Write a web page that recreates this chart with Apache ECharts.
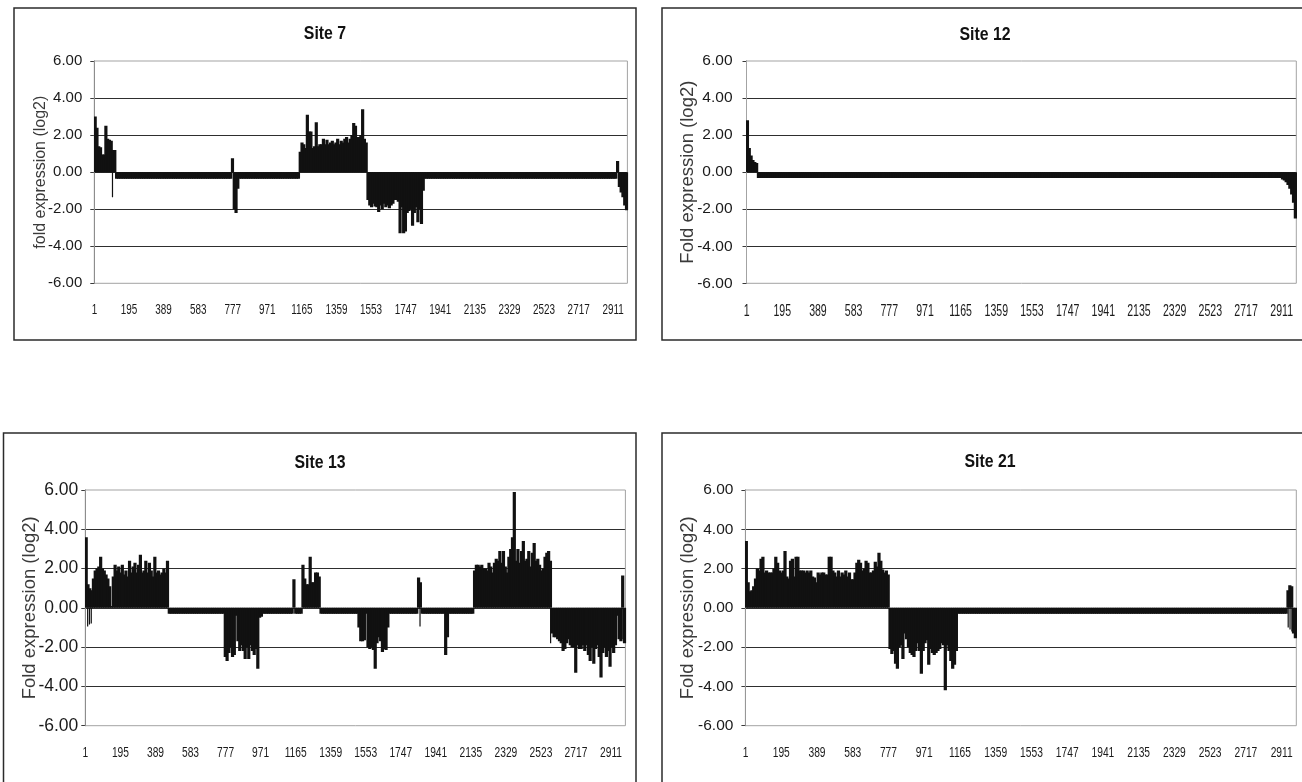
<!DOCTYPE html>
<html><head><meta charset="utf-8">
<script src="https://cdn.jsdelivr.net/npm/echarts@6/dist/echarts.min.js"></script>
<style>html,body{margin:0;padding:0;background:#fff}#c{width:1302px;height:782px}</style>
</head><body><div id="c"></div>
<script>
// ---------- DATA ----------
const tickLabels = ['1','195','389','583','777','971','1165','1359','1553','1747','1941','2135','2329','2523','2717','2911'];
const titles = ['Site 7', 'Site 12', 'Site 13', 'Site 21'];
const yNames = ['fold expression (log2)', 'Fold expression (log2)', 'Fold expression (log2)', 'Fold expression (log2)'];
const nCats = 2990;   // number of probes on the x axis
const binSize = 10;   // each value below covers 10 consecutive probes
const tickStep = 194; // a label every 194 probes

const site7 = [
 3.0,2.4,1.4,1.35,0.95,0.95,2.5,1.8,1.75,1.7,1.2,1.2,-0.35,-0.35,-0.35,-0.35,-0.35,-0.35,-0.35,-0.35,
 -0.35,-0.35,-0.35,-0.35,-0.35,-0.35,-0.35,-0.35,-0.35,-0.35,-0.35,-0.35,-0.35,-0.35,-0.35,-0.35,-0.35,-0.35,-0.35,-0.35,
 -0.35,-0.35,-0.35,-0.35,-0.35,-0.35,-0.35,-0.35,-0.35,-0.35,-0.35,-0.35,-0.35,-0.35,-0.35,-0.35,-0.35,-0.35,-0.35,-0.35,
 -0.35,-0.35,-0.35,-0.35,-0.35,-0.35,-0.35,-0.35,-0.35,-0.35,-0.35,-0.35,-0.35,-0.35,-0.35,-0.35,-0.35,0.75,-2.0,-2.2,
 -0.9,-0.35,-0.35,-0.35,-0.35,-0.35,-0.35,-0.35,-0.35,-0.35,-0.35,-0.35,-0.35,-0.35,-0.35,-0.35,-0.35,-0.35,-0.35,-0.35,
 -0.35,-0.35,-0.35,-0.35,-0.35,-0.35,-0.35,-0.35,-0.35,-0.35,-0.35,-0.35,-0.35,-0.35,-0.35,1.1,1.6,1.5,1.3,3.1,
 2.2,2.2,1.3,1.4,2.7,1.4,1.5,1.5,1.8,1.5,1.75,1.5,1.6,1.7,1.5,1.6,1.8,1.5,1.7,1.6,
 1.8,1.9,1.6,1.8,2.0,2.65,2.5,1.9,1.9,2.0,3.4,1.8,1.6,-1.5,-1.8,-1.9,-1.7,-1.85,-1.9,-2.15,
 -1.8,-2.0,-1.7,-1.9,-1.8,-1.95,-1.8,-1.7,-1.5,-1.5,-1.6,-3.3,-1.9,-3.3,-3.2,-2.2,-2.1,-2.0,-2.9,-2.2,
 -1.9,-2.7,-2.0,-2.8,-1.0,-0.35,-0.35,-0.35,-0.35,-0.35,-0.35,-0.35,-0.35,-0.35,-0.35,-0.35,-0.35,-0.35,-0.35,-0.35,
 -0.35,-0.35,-0.35,-0.35,-0.35,-0.35,-0.35,-0.35,-0.35,-0.35,-0.35,-0.35,-0.35,-0.35,-0.35,-0.35,-0.35,-0.35,-0.35,-0.35,
 -0.35,-0.35,-0.35,-0.35,-0.35,-0.35,-0.35,-0.35,-0.35,-0.35,-0.35,-0.35,-0.35,-0.35,-0.35,-0.35,-0.35,-0.35,-0.35,-0.35,
 -0.35,-0.35,-0.35,-0.35,-0.35,-0.35,-0.35,-0.35,-0.35,-0.35,-0.35,-0.35,-0.35,-0.35,-0.35,-0.35,-0.35,-0.35,-0.35,-0.35,
 -0.35,-0.35,-0.35,-0.35,-0.35,-0.35,-0.35,-0.35,-0.35,-0.35,-0.35,-0.35,-0.35,-0.35,-0.35,-0.35,-0.35,-0.35,-0.35,-0.35,
 -0.35,-0.35,-0.35,-0.35,-0.35,-0.35,-0.35,-0.35,-0.35,-0.35,-0.35,-0.35,-0.35,0.6,-0.8,-1.1,-1.35,-1.8,-2.05
];
const site7ExtraX = [102];
const site7ExtraY = [-1.35];

const site12 = [
 2.8,1.3,0.9,0.65,0.55,0.5,-0.32,-0.32,-0.32,-0.32,-0.32,-0.32,-0.32,-0.32,-0.32,-0.32,-0.32,-0.32,-0.32,-0.32,
 -0.32,-0.32,-0.32,-0.32,-0.32,-0.32,-0.32,-0.32,-0.32,-0.32,-0.32,-0.32,-0.32,-0.32,-0.32,-0.32,-0.32,-0.32,-0.32,-0.32,
 -0.32,-0.32,-0.32,-0.32,-0.32,-0.32,-0.32,-0.32,-0.32,-0.32,-0.32,-0.32,-0.32,-0.32,-0.32,-0.32,-0.32,-0.32,-0.32,-0.32,
 -0.32,-0.32,-0.32,-0.32,-0.32,-0.32,-0.32,-0.32,-0.32,-0.32,-0.32,-0.32,-0.32,-0.32,-0.32,-0.32,-0.32,-0.32,-0.32,-0.32,
 -0.32,-0.32,-0.32,-0.32,-0.32,-0.32,-0.32,-0.32,-0.32,-0.32,-0.32,-0.32,-0.32,-0.32,-0.32,-0.32,-0.32,-0.32,-0.32,-0.32,
 -0.32,-0.32,-0.32,-0.32,-0.32,-0.32,-0.32,-0.32,-0.32,-0.32,-0.32,-0.32,-0.32,-0.32,-0.32,-0.32,-0.32,-0.32,-0.32,-0.32,
 -0.32,-0.32,-0.32,-0.32,-0.32,-0.32,-0.32,-0.32,-0.32,-0.32,-0.32,-0.32,-0.32,-0.32,-0.32,-0.32,-0.32,-0.32,-0.32,-0.32,
 -0.32,-0.32,-0.32,-0.32,-0.32,-0.32,-0.32,-0.32,-0.32,-0.32,-0.32,-0.32,-0.32,-0.32,-0.32,-0.32,-0.32,-0.32,-0.32,-0.32,
 -0.32,-0.32,-0.32,-0.32,-0.32,-0.32,-0.32,-0.32,-0.32,-0.32,-0.32,-0.32,-0.32,-0.32,-0.32,-0.32,-0.32,-0.32,-0.32,-0.32,
 -0.32,-0.32,-0.32,-0.32,-0.32,-0.32,-0.32,-0.32,-0.32,-0.32,-0.32,-0.32,-0.32,-0.32,-0.32,-0.32,-0.32,-0.32,-0.32,-0.32,
 -0.32,-0.32,-0.32,-0.32,-0.32,-0.32,-0.32,-0.32,-0.32,-0.32,-0.32,-0.32,-0.32,-0.32,-0.32,-0.32,-0.32,-0.32,-0.32,-0.32,
 -0.32,-0.32,-0.32,-0.32,-0.32,-0.32,-0.32,-0.32,-0.32,-0.32,-0.32,-0.32,-0.32,-0.32,-0.32,-0.32,-0.32,-0.32,-0.32,-0.32,
 -0.32,-0.32,-0.32,-0.32,-0.32,-0.32,-0.32,-0.32,-0.32,-0.32,-0.32,-0.32,-0.32,-0.32,-0.32,-0.32,-0.32,-0.32,-0.32,-0.32,
 -0.32,-0.32,-0.32,-0.32,-0.32,-0.32,-0.32,-0.32,-0.32,-0.32,-0.32,-0.32,-0.32,-0.32,-0.32,-0.32,-0.32,-0.32,-0.32,-0.32,
 -0.32,-0.32,-0.32,-0.32,-0.32,-0.32,-0.32,-0.32,-0.32,-0.32,-0.32,-0.4,-0.45,-0.55,-0.7,-0.9,-1.2,-1.65,-2.5
];
const site12ExtraX = [];
const site12ExtraY = [];

const site13 = [
 3.6,1.2,1.0,0.9,1.5,1.9,2.0,2.1,2.6,2.0,1.9,1.7,1.5,1.1,0.1,1.6,2.2,1.9,2.1,1.8,
 2.2,1.7,1.9,1.6,2.4,1.8,2.1,2.3,1.8,2.2,2.7,1.8,1.9,2.4,1.8,2.3,1.9,1.6,2.6,1.8,
 1.9,1.7,1.8,2.0,1.8,2.4,-0.3,-0.3,-0.3,-0.3,-0.3,-0.3,-0.3,-0.3,-0.3,-0.3,-0.3,-0.3,-0.3,-0.3,
 -0.3,-0.3,-0.3,-0.3,-0.3,-0.3,-0.3,-0.3,-0.3,-0.3,-0.3,-0.3,-0.3,-0.3,-0.3,-0.3,-0.3,-2.5,-2.7,-2.3,
 -2.0,-2.5,-2.4,-0.4,-1.7,-2.2,-1.9,-2.2,-2.6,-2.0,-2.6,-1.9,-2.2,-2.4,-2.1,-3.1,-0.5,-0.45,-0.3,-0.3,
 -0.3,-0.3,-0.3,-0.3,-0.3,-0.3,-0.3,-0.3,-0.3,-0.3,-0.3,-0.3,-0.3,-0.3,-0.3,1.45,-0.3,-0.3,-0.3,-0.3,
 2.2,1.5,1.2,1.2,2.6,1.3,1.3,1.8,1.8,1.6,-0.3,-0.3,-0.3,-0.3,-0.3,-0.3,-0.3,-0.3,-0.3,-0.3,
 -0.3,-0.3,-0.3,-0.3,-0.3,-0.3,-0.3,-0.3,-0.3,-0.3,-0.3,-1.0,-1.7,-1.7,-1.65,-0.3,-2.0,-2.1,-2.0,-2.15,
 -3.1,-1.8,-1.5,-1.7,-2.25,-2.1,-2.15,-1.0,-0.3,-0.3,-0.3,-0.3,-0.3,-0.3,-0.3,-0.3,-0.3,-0.3,-0.3,-0.3,
 -0.3,-0.3,-0.3,-0.3,1.55,1.3,-0.3,-0.3,-0.3,-0.3,-0.3,-0.3,-0.3,-0.3,-0.3,-0.3,-0.3,-0.3,-0.3,-2.4,
 -1.5,-0.3,-0.3,-0.3,-0.3,-0.3,-0.3,-0.3,-0.3,-0.3,-0.3,-0.3,-0.3,-0.3,-0.3,1.9,2.2,2.2,2.1,2.2,
 2.0,2.0,1.9,2.3,2.1,1.8,2.3,2.5,2.4,2.9,2.3,2.9,2.1,1.8,2.6,3.0,3.6,5.9,2.4,3.0,
 2.3,2.9,3.4,2.4,2.5,2.9,2.1,2.8,3.3,2.4,2.5,2.2,1.9,2.0,2.6,2.8,2.9,2.4,-1.3,-1.5,
 -1.5,-1.6,-1.7,-1.8,-2.2,-2.1,-1.8,-1.6,-1.9,-2.0,-2.0,-3.3,-1.9,-2.1,-2.1,-1.9,-2.2,-1.9,-2.4,-2.7,
 -2.0,-2.85,-2.1,-1.9,-2.5,-3.55,-2.3,-2.0,-2.5,-2.2,-3.0,-2.0,-2.3,-1.9,-0.4,-1.6,-1.7,1.65,-1.8
];
const site13ExtraX = [13, 23, 33, 1853, 2576, 2972];
const site13ExtraY = [-0.95, -0.85, -0.8, -0.95, -1.8, -1.6];

const site21 = [
 3.4,1.3,0.85,0.9,1.1,1.5,2.0,1.9,2.5,2.6,1.8,1.9,1.8,1.8,1.8,2.0,2.6,2.3,1.9,1.8,
 1.9,2.9,1.6,1.5,2.4,2.5,1.6,2.6,2.6,1.9,1.9,1.9,1.8,1.9,1.8,1.9,1.6,1.55,1.3,1.8,
 1.7,1.8,1.8,1.7,1.7,2.6,2.6,1.9,1.8,1.6,1.9,1.6,1.8,1.7,1.9,1.6,1.8,1.45,1.45,1.8,
 2.3,2.45,2.3,1.9,2.0,2.4,2.3,1.8,1.8,1.9,2.35,2.1,2.8,2.4,1.95,1.8,1.9,1.7,-2.1,-2.35,
 -2.2,-2.85,-3.1,-2.0,-1.9,-2.6,-1.3,-1.6,-2.0,-2.3,-2.4,-2.5,-2.2,-1.8,-2.2,-3.35,-2.2,-1.8,-1.65,-2.9,
 -2.1,-2.3,-2.4,-2.3,-2.2,-2.1,-1.8,-1.9,-4.2,-1.9,-2.2,-2.7,-3.1,-2.9,-2.2,-0.3,-0.3,-0.3,-0.3,-0.3,
 -0.3,-0.3,-0.3,-0.3,-0.3,-0.3,-0.3,-0.3,-0.3,-0.3,-0.3,-0.3,-0.3,-0.3,-0.3,-0.3,-0.3,-0.3,-0.3,-0.3,
 -0.3,-0.3,-0.3,-0.3,-0.3,-0.3,-0.3,-0.3,-0.3,-0.3,-0.3,-0.3,-0.3,-0.3,-0.3,-0.3,-0.3,-0.3,-0.3,-0.3,
 -0.3,-0.3,-0.3,-0.3,-0.3,-0.3,-0.3,-0.3,-0.3,-0.3,-0.3,-0.3,-0.3,-0.3,-0.3,-0.3,-0.3,-0.3,-0.3,-0.3,
 -0.3,-0.3,-0.3,-0.3,-0.3,-0.3,-0.3,-0.3,-0.3,-0.3,-0.3,-0.3,-0.3,-0.3,-0.3,-0.3,-0.3,-0.3,-0.3,-0.3,
 -0.3,-0.3,-0.3,-0.3,-0.3,-0.3,-0.3,-0.3,-0.3,-0.3,-0.3,-0.3,-0.3,-0.3,-0.3,-0.3,-0.3,-0.3,-0.3,-0.3,
 -0.3,-0.3,-0.3,-0.3,-0.3,-0.3,-0.3,-0.3,-0.3,-0.3,-0.3,-0.3,-0.3,-0.3,-0.3,-0.3,-0.3,-0.3,-0.3,-0.3,
 -0.3,-0.3,-0.3,-0.3,-0.3,-0.3,-0.3,-0.3,-0.3,-0.3,-0.3,-0.3,-0.3,-0.3,-0.3,-0.3,-0.3,-0.3,-0.3,-0.3,
 -0.3,-0.3,-0.3,-0.3,-0.3,-0.3,-0.3,-0.3,-0.3,-0.3,-0.3,-0.3,-0.3,-0.3,-0.3,-0.3,-0.3,-0.3,-0.3,-0.3,
 -0.3,-0.3,-0.3,-0.3,-0.3,-0.3,-0.3,-0.3,-0.3,-0.3,-0.3,-0.3,-0.3,-0.3,0.9,1.15,1.1,-1.3,-1.55
];
const site21ExtraX = [2946, 2956, 2966];
const site21ExtraY = [-1.0, -1.1, -1.2];

// ---------- LAYOUT / STYLE ----------
const ARIAL = "'Liberation Sans',Arial,sans-serif";
const BAR = '#111';
const panels = [
  {vals: site7,  ex: site7ExtraX,  ey: site7ExtraY,
   box: [14, 8, 622, 332], grid: [94.3, 61, 533.1, 222.3], title: [325, 34],
   nameGap: 46, nameSize: 16, ySize: 15, yMargin: 12, xSize: 15, xLabelY: 310},
  {vals: site12, ex: site12ExtraX, ey: site12ExtraY,
   box: [662, 8, 660, 332], grid: [746.5, 61, 549.8, 222.3], title: [985, 35],
   nameGap: 49, nameSize: 18.5, ySize: 15.5, yMargin: 14, xSize: 16, xLabelY: 312},
  {vals: site13, ex: site13ExtraX, ey: site13ExtraY,
   box: [3.5, 433, 632.5, 400], grid: [85.3, 490, 540.1, 235.7], title: [320, 463],
   nameGap: 46, nameSize: 18.5, ySize: 17.5, yMargin: 7, xSize: 15.5, xLabelY: 753},
  {vals: site21, ex: site21ExtraX, ey: site21ExtraY,
   box: [662, 433, 660, 400], grid: [745.4, 490, 550.9, 235.7], title: [990, 462],
   nameGap: 48, nameSize: 18.5, ySize: 15.5, yMargin: 12, xSize: 15.5, xLabelY: 753}
];
const xLabelSquash = 0.66;
const titleSquash = 0.88;

// bar drawn over its own span of probes, through the axis scales (slightly overlapping neighbours)
function binBar(params, api) {
  const x = api.value(0), v = api.value(1);
  const a = api.coord([x - binSize / 2, 0]);
  const b = api.coord([x + binSize / 2, v]);
  return {type: 'rect', shape: {x: a[0] - 0.7, y: Math.min(a[1], b[1]), width: b[0] - a[0] + 1.4, height: Math.abs(b[1] - a[1])},
    style: {fill: BAR}};
}
function spikeBar(params, api) {
  const a = api.coord([api.value(0), 0]);
  const b = api.coord([api.value(0), api.value(1)]);
  return {type: 'rect', shape: {x: a[0] - 0.6, y: Math.min(a[1], b[1]), width: 1.2, height: Math.abs(b[1] - a[1])},
    style: {fill: BAR}};
}

const grids = [], xAxes = [], yAxes = [], series = [], graphics = [];
panels.forEach((p, k) => {
  graphics.push({type: 'rect', z: 0, shape: {x: p.box[0], y: p.box[1], width: p.box[2], height: p.box[3]},
    style: {fill: '#fff', stroke: '#2b2b2b', lineWidth: 1.5}});
  graphics.push({type: 'text', z: 10, x: p.title[0], y: p.title[1], scaleX: titleSquash,
    style: {text: titles[k], font: "bold 18px 'Liberation Sans', Arial, sans-serif", fill: '#111', align: 'center', verticalAlign: 'middle'}});
  grids.push({left: p.grid[0], top: p.grid[1], width: p.grid[2], height: p.grid[3],
    show: true, borderColor: '#a3a3a3', borderWidth: 1, backgroundColor: 'transparent', z: 1});
  xAxes.push({gridIndex: k, type: 'value', min: 0, max: nCats, interval: tickStep,
    axisLine: {show: false}, axisTick: {show: false}, splitLine: {show: false}, axisLabel: {show: false}});
  yAxes.push({gridIndex: k, type: 'value', min: -6, max: 6, interval: 2,
    name: yNames[k], nameLocation: 'middle', nameRotate: 90, nameGap: p.nameGap, nameMoveOverlap: false,
    nameTextStyle: {fontFamily: ARIAL, fontSize: p.nameSize, color: '#3a3a3a'},
    axisLine: {show: true, lineStyle: {color: '#3a3a3a', width: 1}},
    axisTick: {show: true, length: 4, lineStyle: {color: '#3a3a3a'}},
    axisLabel: {margin: p.yMargin, color: '#1a1a1a', fontFamily: ARIAL, fontSize: p.ySize,
      formatter: v => v.toFixed(2)},
    splitLine: {show: true, showMinLine: false, showMaxLine: false, lineStyle: {color: '#2e2e2e', width: 1.2}}});
  series.push({type: 'custom', xAxisIndex: k, yAxisIndex: k, renderItem: binBar, silent: true, z: 3, clip: true,
    data: p.vals.map((v, i) => [i * binSize + binSize / 2, v])});
  series.push({type: 'custom', xAxisIndex: k, yAxisIndex: k, renderItem: spikeBar, silent: true, z: 4, clip: true,
    data: p.ex.map((x, i) => [x, p.ey[i]])});
});

const chart = echarts.init(document.getElementById('c'), null, {renderer: 'canvas'});
chart.setOption({
  animation: false,
  backgroundColor: '#fff',
  grid: grids, xAxis: xAxes, yAxis: yAxes, series: series,
  graphic: {elements: graphics}
});

// x tick labels: condensed text placed through the axis scale
const labelEls = [];
panels.forEach((p, k) => {
  tickLabels.forEach((t, i) => {
    const px = chart.convertToPixel({xAxisIndex: k}, i * tickStep + 0.5);
    labelEls.push({type: 'text', z: 10, x: px, y: p.xLabelY, scaleX: xLabelSquash,
      style: {text: t, font: p.xSize + "px 'Liberation Sans', Arial, sans-serif", fill: '#1a1a1a',
        align: 'center', verticalAlign: 'middle'}});
  });
});
chart.setOption({graphic: {elements: graphics.concat(labelEls)}});
</script></body></html>
